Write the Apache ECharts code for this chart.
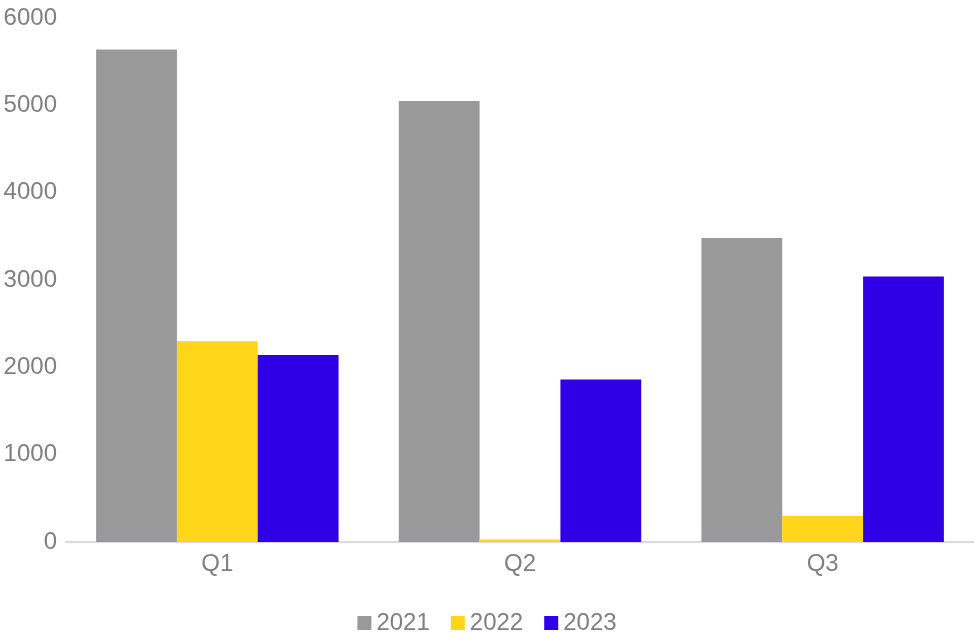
<!DOCTYPE html>
<html>
<head>
<meta charset="utf-8">
<script src="https://cdn.jsdelivr.net/npm/echarts@6/dist/echarts.min.js"></script>
<style>
  html, body { margin: 0; padding: 0; background: #ffffff; }
  #chart { width: 974px; height: 642px; }
</style>
</head>
<body>
<div id="chart"></div>
<script>
// Quarterly values per year
const categories = ['Q1', 'Q2', 'Q3'];
const years = ['2021', '2022', '2023'];
const values2021 = [5640, 5050, 3480];
const values2022 = [2300, 30, 300];
const values2023 = [2140, 1860, 3040];
const yTicks = { min: 0, max: 6000, interval: 1000 };

const colors = ['#999999', '#fed619', '#2f00e6'];
const textColor = '#808080';
const fontFamily = 'Liberation Sans, Arial, sans-serif';

const chart = echarts.init(document.getElementById('chart'), null, { renderer: 'canvas' });

chart.setOption({
  animation: false,
  color: colors,
  textStyle: { fontFamily: fontFamily },
  grid: { left: 66, right: -6, top: 18, bottom: 100, containLabel: false },
  legend: {
    bottom: 2,
    left: 'center',
    icon: 'rect',
    itemWidth: 14,
    itemHeight: 14,
    itemGap: 21,
    textStyle: { color: textColor, fontSize: 24, fontFamily: fontFamily },
    data: years
  },
  xAxis: {
    type: 'category',
    data: categories,
    axisLine: { show: true, lineStyle: { color: '#dcd6f7', width: 2 } },
    axisTick: { show: false },
    axisLabel: { color: textColor, fontSize: 24, margin: 10, fontFamily: fontFamily }
  },
  yAxis: {
    type: 'value',
    min: yTicks.min,
    max: yTicks.max,
    interval: yTicks.interval,
    splitLine: { show: false },
    axisLine: { show: false },
    axisTick: { show: false },
    axisLabel: {
      color: textColor, fontSize: 24, margin: 9, fontFamily: fontFamily,
      formatter: (v) => String(v)
    }
  },
  series: [
    { name: years[0], type: 'bar', data: values2021, barGap: '0%', barCategoryGap: '19.9%' },
    { name: years[1], type: 'bar', data: values2022, barGap: '0%', barCategoryGap: '19.9%' },
    { name: years[2], type: 'bar', data: values2023, barGap: '0%', barCategoryGap: '19.9%' }
  ]
});
</script>
</body>
</html>
